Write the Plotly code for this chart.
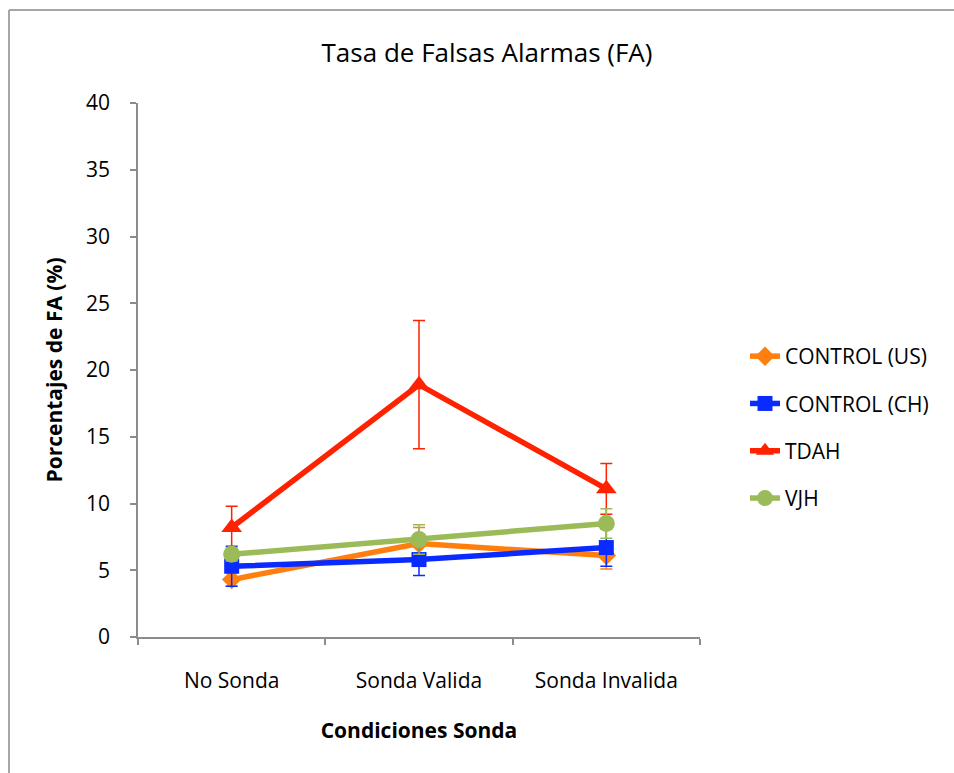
import plotly.graph_objects as go

# Probe conditions and false-alarm rates (%) per group, with error bar half-widths
conditions = ["No Sonda", "Sonda Valida", "Sonda Invalida"]

control_us = [4.3, 7.0, 6.1]
control_us_err = [0.5, 1.2, 1.0]

control_ch = [5.3, 5.8, 6.7]
control_ch_err = [1.5, 1.2, 1.4]

tdah = [8.2, 18.9, 11.1]
tdah_err = [1.6, 4.8, 1.9]

vjh = [6.2, 7.3, 8.5]
vjh_err = [0.5, 1.1, 1.1]

y_ticks = [0, 5, 10, 15, 20, 25, 30, 35, 40]

FONT = "Open Sans"
W, H = 954, 773
L, R, T, B = 138, 700, 103, 637

series = [
    ("CONTROL (US)", control_us, control_us_err, "#FF7F0E", "diamond", 15),
    ("CONTROL (CH)", control_ch, control_ch_err, "#0A2BFF", "square", 15),
    ("TDAH", tdah, tdah_err, "#FF2200", "triangle-up", 18),
    ("VJH", vjh, vjh_err, "#9BBB59", "circle", 17),
]

fig = go.Figure()
for name, vals, errs, color, symbol, size in series:
    fig.add_trace(go.Scatter(
        x=conditions, y=vals, name=name, mode="lines+markers",
        legendgroup=name,
        line=dict(color=color, width=5.5),
        marker=dict(symbol=symbol, size=size, color=color),
        error_y=dict(type="data", array=errs, visible=True,
                     color=color, thickness=1.5, width=6),
    ))

# Frame around the chart (left and top edges visible in the window)
pw, ph = R - L, B - T
fx0 = (9 - L) / pw
fy1 = (B - 10) / ph
fig.add_shape(type="line", xref="paper", yref="paper",
              x0=fx0, x1=fx0, y0=(B - H - 5) / ph, y1=fy1,
              line=dict(color="#A6A6A6", width=2))
fig.add_shape(type="line", xref="paper", yref="paper",
              x0=fx0, x1=(W + 5 - L) / pw, y0=fy1, y1=fy1,
              line=dict(color="#A6A6A6", width=2))

fig.update_layout(
    width=W, height=H,
    margin=dict(l=L, r=W - R, t=T, b=H - B),
    paper_bgcolor="white", plot_bgcolor="white",
    font=dict(family=FONT, size=20, color="#000000"),
    title=dict(text="Tasa de Falsas Alarmas (FA)", x=487 / W, xanchor="center",
               y=1 - 53 / H, yanchor="middle",
               font=dict(family=FONT, size=26, color="#000000")),
    showlegend=True,
    legend=dict(x=(745 - L) / pw, y=(B - 336) / ph, xanchor="left", yanchor="top",
                font=dict(family=FONT, size=21), tracegroupgap=17,
                itemwidth=30, bgcolor="rgba(0,0,0,0)"),
    xaxis=dict(
        type="category", range=[-0.5, 2.5], tickson="boundaries",
        showline=True, linecolor="#8C8C8C", linewidth=1.5,
        ticks="outside", ticklen=6, tickcolor="#8C8C8C", tickwidth=1.5,
        showgrid=False, zeroline=False, ticklabelstandoff=24,
        tickfont=dict(family=FONT, size=21),
        title=dict(text="<b>Condiciones Sonda</b>", standoff=30,
                   font=dict(family=FONT, size=21)),
    ),
    yaxis=dict(
        range=[0, 40], tickvals=y_ticks,
        showline=True, linecolor="#8C8C8C", linewidth=1.5,
        ticks="outside", ticklen=6, tickcolor="#8C8C8C", tickwidth=1.5,
        showgrid=False, zeroline=False, ticklabelstandoff=16,
        tickfont=dict(family=FONT, size=21),
        title=dict(text="<b>Porcentajes de FA (%)</b>", standoff=18,
                   font=dict(family=FONT, size=21)),
    ),
)

fig.write_html("out.html")
